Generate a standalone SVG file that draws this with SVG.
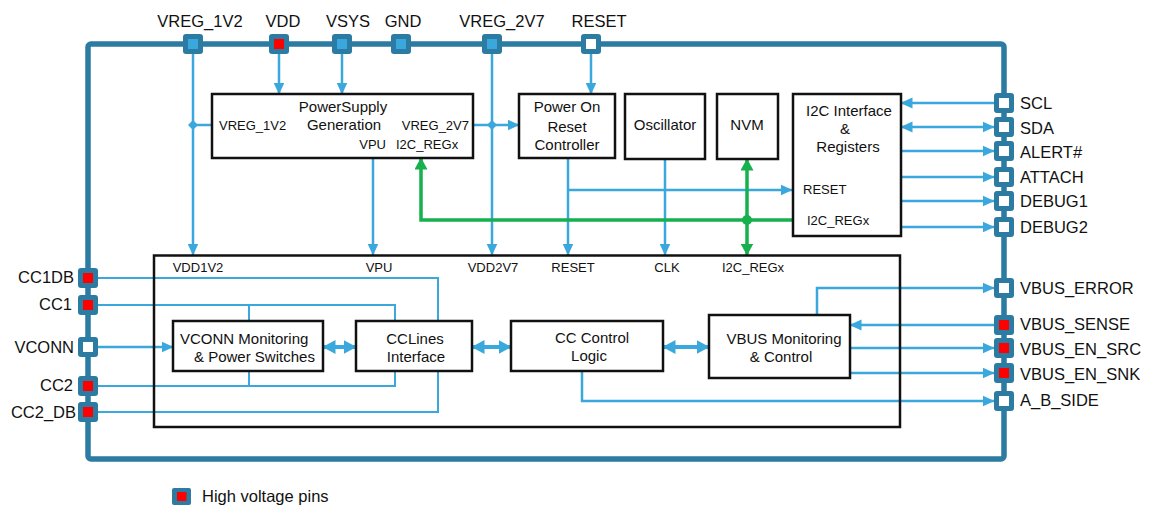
<svg xmlns="http://www.w3.org/2000/svg" width="1156" height="506" viewBox="0 0 1156 506">
<defs>
<style>
text{font-family:"Liberation Sans",Arial,sans-serif;fill:#111}
.pl{font-size:16.5px}
.bt{font-size:15px}
.sl{font-size:13px}
.box{fill:#fff;stroke:#111;stroke-width:2.5}
.po{fill:#2b7ba2}
.red{fill:#ff0000}
.blu{fill:#3aa8dc}
.wht{fill:#fff}
.c{fill:none;stroke:#3aa8dc;stroke-width:2.5}
.t{fill:none;stroke:#3aa8dc;stroke-width:2}
.k{fill:none;stroke:#3aa8dc;stroke-width:4}
.g{fill:none;stroke:#16b04d;stroke-width:3.5}
</style>
<marker id="a" markerUnits="userSpaceOnUse" markerWidth="12" markerHeight="12" viewBox="0 0 12 12" refX="11.5" refY="6" orient="auto-start-reverse"><path d="M0,0.5 L12,6 L0,11.5 z" fill="#3aa8dc"/></marker>
<marker id="ab" markerUnits="userSpaceOnUse" markerWidth="13" markerHeight="14" viewBox="0 0 13 14" refX="12.5" refY="7" orient="auto-start-reverse"><path d="M0,0 L13,7 L0,14 z" fill="#3aa8dc"/></marker>
<marker id="ag" markerUnits="userSpaceOnUse" markerWidth="12" markerHeight="13" viewBox="0 0 12 13" refX="11.5" refY="6.5" orient="auto-start-reverse"><path d="M0,0 L12,6.5 L0,13 z" fill="#16b04d"/></marker>
</defs>
<rect width="1156" height="506" fill="#fff"/>
<rect id="frame" x="88" y="44" width="916" height="415" rx="3" fill="none" stroke="#2b7ba2" stroke-width="5.5"/>

<g id="connectors">
<path class="c" d="M193,54 V255" marker-end="url(#a)"/>
<path class="c" d="M193,125 H212"/>
<path d="M193,120 L198,125 L193,130 L188,125 z" fill="#3aa8dc"/>
<path class="c" d="M279,54 V94" marker-end="url(#a)"/>
<path class="c" d="M342,54 V94" marker-end="url(#a)"/>
<path class="c" d="M492,54 V255" marker-end="url(#a)"/>
<path d="M492,120 L497,125 L492,130 L487,125 z" fill="#3aa8dc"/>
<path class="c" d="M473,125 H519" marker-end="url(#a)"/>
<path class="c" d="M591,54 V94" marker-end="url(#a)"/>
<path class="c" d="M373,158 V255" marker-end="url(#a)"/>
<path class="c" d="M568,158 V255" marker-end="url(#a)"/>
<path class="c" d="M568,190 H792" marker-end="url(#a)"/>
<path class="c" d="M665,159 V255" marker-end="url(#a)"/>
<path class="g" d="M792,220 H421 V158" marker-end="url(#ag)"/>
<path class="g" d="M747,159 V255" marker-start="url(#ag)" marker-end="url(#ag)"/>
<circle cx="747" cy="220" r="5" fill="#16b04d"/>

<path class="c" d="M994,103 H901" marker-end="url(#a)"/>
<path class="c" d="M994,127 H901" marker-start="url(#a)" marker-end="url(#a)"/>
<path class="c" d="M901,151 H994" marker-end="url(#a)"/>
<path class="c" d="M901,177 H994" marker-end="url(#a)"/>
<path class="c" d="M901,201 H994" marker-end="url(#a)"/>
<path class="c" d="M901,227 H994" marker-end="url(#a)"/>
<path class="c" d="M817,315 V288 H994" marker-end="url(#a)"/>
<path class="c" d="M994,325 H850" marker-end="url(#a)"/>
<path class="c" d="M850,348 H994" marker-end="url(#a)"/>
<path class="c" d="M850,373 H994" marker-end="url(#a)"/>
<path class="c" d="M582,371 V401 H994" marker-end="url(#a)"/>

<path class="t" d="M98,278 H438 V321"/>
<path class="t" d="M98,305 H395 V321"/>
<path class="t" d="M249,305 V321"/>
<path class="c" d="M98,347 H173" marker-end="url(#a)"/>
<path class="t" d="M98,386 H395 V371"/>
<path class="t" d="M249,386 V371"/>
<path class="t" d="M98,412 H438 V371"/>
<path class="k" d="M323,347 H356" marker-start="url(#ab)" marker-end="url(#ab)"/>
<path class="k" d="M472,347 H511" marker-start="url(#ab)" marker-end="url(#ab)"/>
<path class="k" d="M663,347 H709" marker-start="url(#ab)" marker-end="url(#ab)"/>
</g>

<g id="powersupply">
<rect class="box" x="212" y="94" width="261" height="64"/>
<text class="bt" x="343" y="112" text-anchor="middle">PowerSupply</text>
<text class="bt" x="344" y="130" text-anchor="middle">Generation</text>
<text class="sl" x="219" y="130">VREG_1V2</text>
<text class="sl" x="469" y="130" text-anchor="end">VREG_2V7</text>
<text class="sl" x="386" y="149" text-anchor="end">VPU</text>
<text class="sl" x="396" y="149">I2C_REGx</text>
</g>
<g id="por">
<rect class="box" x="519" y="94" width="96" height="64"/>
<text class="bt" x="567" y="112" text-anchor="middle">Power On</text>
<text class="bt" x="567" y="132" text-anchor="middle">Reset</text>
<text class="bt" x="567" y="150" text-anchor="middle">Controller</text>
</g>
<g id="oscillator">
<rect class="box" x="625" y="94" width="80" height="65"/>
<text class="bt" x="665" y="130" text-anchor="middle">Oscillator</text>
</g>
<g id="nvm">
<rect class="box" x="717" y="94" width="61" height="65"/>
<text class="bt" x="747" y="130" text-anchor="middle">NVM</text>
</g>
<g id="i2c">
<rect class="box" x="793" y="94" width="108" height="142"/>
<text class="bt" x="849" y="116" text-anchor="middle">I2C Interface</text>
<text class="bt" x="845" y="134" text-anchor="middle">&amp;</text>
<text class="bt" x="848" y="152" text-anchor="middle">Registers</text>
<text class="sl" x="803" y="194">RESET</text>
<text class="sl" x="807" y="225">I2C_REGx</text>
</g>

<g id="core">
<rect class="box" x="154" y="255.5" width="746" height="171.5" style="fill:none"/>
<text class="sl" x="198" y="272" text-anchor="middle">VDD1V2</text>
<text class="sl" x="379" y="272" text-anchor="middle">VPU</text>
<text class="sl" x="493" y="272" text-anchor="middle">VDD2V7</text>
<text class="sl" x="573" y="272" text-anchor="middle">RESET</text>
<text class="sl" x="667" y="272" text-anchor="middle">CLK</text>
<text class="sl" x="753" y="272" text-anchor="middle">I2C_REGx</text>
</g>
<g id="vconn">
<rect class="box" x="173" y="321" width="150" height="50"/>
<text class="bt" x="180" y="343.5">VCONN Monitoring</text>
<text class="bt" x="194" y="361.5">&amp; Power Switches</text>
</g>
<g id="cclines">
<rect class="box" x="356" y="321" width="116" height="50"/>
<text class="bt" x="415" y="343.5" text-anchor="middle">CCLines</text>
<text class="bt" x="416" y="361.5" text-anchor="middle">Interface</text>
</g>
<g id="cccontrol">
<rect class="box" x="511" y="321" width="152" height="50"/>
<text class="bt" x="592" y="342.5" text-anchor="middle">CC Control</text>
<text class="bt" x="589" y="360.5" text-anchor="middle">Logic</text>
</g>
<g id="vbusmon">
<rect class="box" x="709" y="315" width="141" height="63"/>
<text class="bt" x="784" y="343.5" text-anchor="middle">VBUS Monitoring</text>
<text class="bt" x="781" y="361.5" text-anchor="middle">&amp; Control</text>
</g>

<g id="pin-vreg1v2"><rect class="po" x="183" y="34" width="20" height="20" rx="3"/><rect class="blu" x="188" y="39" width="10" height="10"/><text class="pl" x="200" y="26.5" text-anchor="middle">VREG_1V2</text></g>
<g id="pin-vdd"><rect class="po" x="269" y="34" width="20" height="20" rx="3"/><rect class="red" x="274" y="39" width="10" height="10"/><text class="pl" x="283" y="26.5" text-anchor="middle">VDD</text></g>
<g id="pin-vsys"><rect class="po" x="332" y="34" width="20" height="20" rx="3"/><rect class="blu" x="337" y="39" width="10" height="10"/><text class="pl" x="348" y="26.5" text-anchor="middle">VSYS</text></g>
<g id="pin-gnd"><rect class="po" x="391" y="34" width="20" height="20" rx="3"/><rect class="blu" x="396" y="39" width="10" height="10"/><text class="pl" x="403" y="26.5" text-anchor="middle">GND</text></g>
<g id="pin-vreg2v7"><rect class="po" x="482" y="34" width="20" height="20" rx="3"/><rect class="blu" x="487" y="39" width="10" height="10"/><text class="pl" x="502" y="26.5" text-anchor="middle">VREG_2V7</text></g>
<g id="pin-reset"><rect class="po" x="581" y="34" width="20" height="20" rx="3"/><rect class="wht" x="586" y="39" width="10" height="10"/><text class="pl" x="599" y="26.5" text-anchor="middle">RESET</text></g>

<g id="pin-scl"><rect class="po" x="994" y="93" width="20" height="20" rx="3"/><rect class="wht" x="999" y="98" width="10" height="10"/><text class="pl" x="1020" y="109">SCL</text></g>
<g id="pin-sda"><rect class="po" x="994" y="117" width="20" height="20" rx="3"/><rect class="wht" x="999" y="122" width="10" height="10"/><text class="pl" x="1020" y="134">SDA</text></g>
<g id="pin-alert"><rect class="po" x="994" y="141" width="20" height="20" rx="3"/><rect class="wht" x="999" y="146" width="10" height="10"/><text class="pl" x="1020" y="158">ALERT#</text></g>
<g id="pin-attach"><rect class="po" x="994" y="167" width="20" height="20" rx="3"/><rect class="wht" x="999" y="172" width="10" height="10"/><text class="pl" x="1020" y="183">ATTACH</text></g>
<g id="pin-debug1"><rect class="po" x="994" y="191" width="20" height="20" rx="3"/><rect class="wht" x="999" y="196" width="10" height="10"/><text class="pl" x="1020" y="207">DEBUG1</text></g>
<g id="pin-debug2"><rect class="po" x="994" y="217" width="20" height="20" rx="3"/><rect class="wht" x="999" y="222" width="10" height="10"/><text class="pl" x="1020" y="233">DEBUG2</text></g>
<g id="pin-vbus-error"><rect class="po" x="994" y="278" width="20" height="20" rx="3"/><rect class="wht" x="999" y="283" width="10" height="10"/><text class="pl" x="1020" y="294">VBUS_ERROR</text></g>
<g id="pin-vbus-sense"><rect class="po" x="994" y="315" width="20" height="20" rx="3"/><rect class="red" x="999" y="320" width="10" height="10"/><text class="pl" x="1020" y="330">VBUS_SENSE</text></g>
<g id="pin-vbus-en-src"><rect class="po" x="994" y="338" width="20" height="20" rx="3"/><rect class="red" x="999" y="343" width="10" height="10"/><text class="pl" x="1020" y="355">VBUS_EN_SRC</text></g>
<g id="pin-vbus-en-snk"><rect class="po" x="994" y="363" width="20" height="20" rx="3"/><rect class="red" x="999" y="368" width="10" height="10"/><text class="pl" x="1020" y="380">VBUS_EN_SNK</text></g>
<g id="pin-a-b-side"><rect class="po" x="994" y="391" width="20" height="20" rx="3"/><rect class="wht" x="999" y="396" width="10" height="10"/><text class="pl" x="1020" y="406">A_B_SIDE</text></g>

<g id="pin-cc1db"><rect class="po" x="78" y="268" width="20" height="20" rx="3"/><rect class="red" x="83" y="273" width="10" height="10"/><text class="pl" x="74" y="283" text-anchor="end">CC1DB</text></g>
<g id="pin-cc1"><rect class="po" x="78" y="295" width="20" height="20" rx="3"/><rect class="red" x="83" y="300" width="10" height="10"/><text class="pl" x="72" y="310" text-anchor="end">CC1</text></g>
<g id="pin-vconn"><rect class="po" x="78" y="337" width="20" height="20" rx="3"/><rect class="wht" x="83" y="342" width="10" height="10"/><text class="pl" x="74" y="353" text-anchor="end">VCONN</text></g>
<g id="pin-cc2"><rect class="po" x="78" y="376" width="20" height="20" rx="3"/><rect class="red" x="83" y="381" width="10" height="10"/><text class="pl" x="73" y="391" text-anchor="end">CC2</text></g>
<g id="pin-cc2-db"><rect class="po" x="78" y="402" width="20" height="20" rx="3"/><rect class="red" x="83" y="407" width="10" height="10"/><text class="pl" x="76" y="418" text-anchor="end">CC2_DB</text></g>

<g id="legend"><rect class="po" x="172" y="488" width="19" height="17" rx="2"/><rect class="red" x="177" y="492" width="9.5" height="9"/><text class="pl" x="202" y="502">High voltage pins</text></g>
</svg>
